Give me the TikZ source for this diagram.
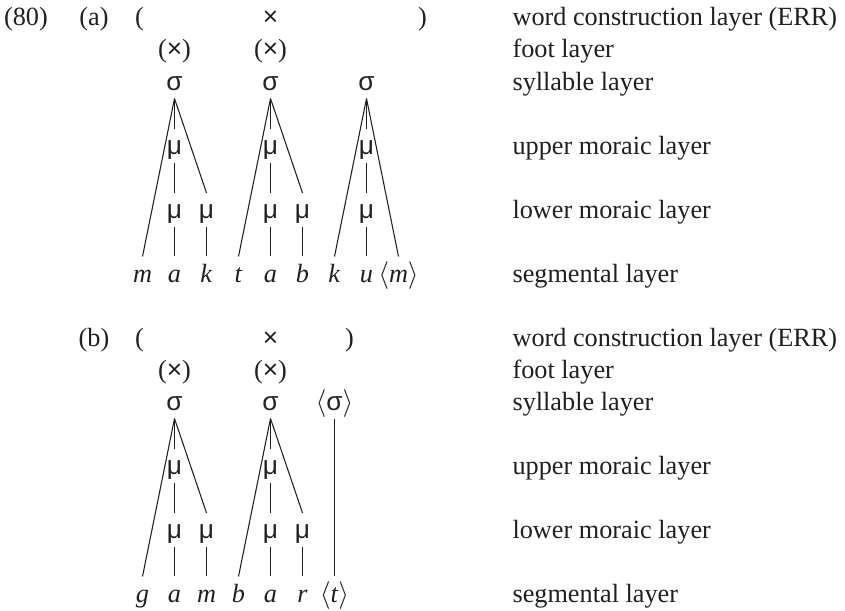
\documentclass[tikz,border=0pt]{standalone}
\usepackage{fontspec}
\setmainfont{Liberation Serif}
\newfontfamily\grf{Liberation Sans}
\newcommand\gsig{{\grf σ}}
\newcommand\gmu{{\grf μ}}
\newcommand\gx{{\grf ×}}
\newcommand\abr[1]{$\langle$#1$\rangle$}
\definecolor{ink}{HTML}{231F20}
\begin{document}
\begin{tikzpicture}[x=0.75pt,y=-0.75pt,
  font=\fontsize{19.7pt}{23pt}\selectfont, line width=0.8pt, draw=ink, text=ink,
  t/.style={anchor=base, inner sep=0pt},
  lab/.style={anchor=base west, inner sep=0pt},
  seg/.style={t, text height=18.75pt},
  mu/.style={t, text height=18.4pt, text depth=6pt},
  syl/.style={t, text depth=6pt}]
\useasboundingbox (0,0) rectangle (845,610);

% ---------- (a) ----------
\node[t] (n80) at (26,26) {(80)};
\node[t] (pa) at (94,26) {(a)};
\node[t] (lpa) at (139.5,26) {(};
\node[t] (xa) at (270.5,26) {\gx};
\node[t] (rpa) at (422.5,26) {)};
\node[t] (fa1) at (174.5,58) {(\gx)};
\node[t] (fa2) at (270.5,58) {(\gx)};
\node[syl] (sa1) at (174.5,90) {\gsig};
\node[syl] (sa2) at (270.5,90) {\gsig};
\node[syl] (sa3) at (366.5,90) {\gsig};
\node[mu] (ua1) at (174.5,154) {\gmu};
\node[mu] (ua2) at (270.5,154) {\gmu};
\node[mu] (ua3) at (366.5,154) {\gmu};
\node[mu] (la1) at (174.5,218) {\gmu};
\node[mu] (la2) at (206.5,218) {\gmu};
\node[mu] (la3) at (270.5,218) {\gmu};
\node[mu] (la4) at (302.5,218) {\gmu};
\node[mu] (la5) at (366.5,218) {\gmu};
\node[seg] (ga1) at (142.5,282) {\textit{m}};
\node[seg] (ga2) at (174.5,282) {\textit{a}};
\node[seg] (ga3) at (206.5,282) {\textit{k}};
\node[seg] (ga4) at (238.5,282) {\textit{t}};
\node[seg] (ga5) at (270.5,282) {\textit{a}};
\node[seg] (ga6) at (302.5,282) {\textit{b}};
\node[seg] (ga7) at (334.5,282) {\textit{k}};
\node[seg] (ga8) at (366.5,282) {\textit{u}};
\node[seg] (ga9) at (398.5,282) {\abr{\textit{m}}};

\draw (sa1.south) -- (ga1.north);
\draw (sa1.south) -- (ua1.north);
\draw (ua1.south) -- (la1.north);
\draw (la1.south) -- (ga2.north);
\draw (sa1.south) -- (la2.north);
\draw (la2.south) -- (ga3.north);
\draw (sa2.south) -- (ga4.north);
\draw (sa2.south) -- (ua2.north);
\draw (ua2.south) -- (la3.north);
\draw (la3.south) -- (ga5.north);
\draw (sa2.south) -- (la4.north);
\draw (la4.south) -- (ga6.north);
\draw (sa3.south) -- (ga7.north);
\draw (sa3.south) -- (ua3.north);
\draw (ua3.south) -- (la5.north);
\draw (la5.south) -- (ga8.north);
\draw (sa3.south) -- (ga9.north);

\node[lab] (la-w) at (512,26) {word construction layer (ERR)};
\node[lab] (la-f) at (512,58) {foot layer};
\node[lab] (la-s) at (512,90) {syllable layer};
\node[lab] (la-u) at (512,154) {upper moraic layer};
\node[lab] (la-l) at (512,218) {lower moraic layer};
\node[lab] (la-g) at (512,282) {segmental layer};

% ---------- (b) ----------
\node[t] (pb) at (94,346) {(b)};
\node[t] (lpb) at (139.5,346) {(};
\node[t] (xb) at (270.5,346) {\gx};
\node[t] (rpb) at (349.5,346) {)};
\node[t] (fb1) at (174.5,378) {(\gx)};
\node[t] (fb2) at (270.5,378) {(\gx)};
\node[syl] (sb1) at (174.5,410) {\gsig};
\node[syl] (sb2) at (270.5,410) {\gsig};
\node[syl] (sb3) at (334.5,410) {\abr{\gsig}};
\node[mu] (ub1) at (174.5,474) {\gmu};
\node[mu] (ub2) at (270.5,474) {\gmu};
\node[mu] (lb1) at (174.5,538) {\gmu};
\node[mu] (lb2) at (206.5,538) {\gmu};
\node[mu] (lb3) at (270.5,538) {\gmu};
\node[mu] (lb4) at (302.5,538) {\gmu};
\node[seg] (gb1) at (142.5,602) {\textit{g}};
\node[seg] (gb2) at (174.5,602) {\textit{a}};
\node[seg] (gb3) at (206.5,602) {\textit{m}};
\node[seg] (gb4) at (238.5,602) {\textit{b}};
\node[seg] (gb5) at (270.5,602) {\textit{a}};
\node[seg] (gb6) at (302.5,602) {\textit{r}};
\node[seg] (gb7) at (334.5,602) {\abr{\textit{t}}};

\draw (sb1.south) -- (gb1.north);
\draw (sb1.south) -- (ub1.north);
\draw (ub1.south) -- (lb1.north);
\draw (lb1.south) -- (gb2.north);
\draw (sb1.south) -- (lb2.north);
\draw (lb2.south) -- (gb3.north);
\draw (sb2.south) -- (gb4.north);
\draw (sb2.south) -- (ub2.north);
\draw (ub2.south) -- (lb3.north);
\draw (lb3.south) -- (gb5.north);
\draw (sb2.south) -- (lb4.north);
\draw (lb4.south) -- (gb6.north);
\draw (sb3.south) -- (gb7.north);

\node[lab] (lb-w) at (512,346) {word construction layer (ERR)};
\node[lab] (lb-f) at (512,378) {foot layer};
\node[lab] (lb-s) at (512,410) {syllable layer};
\node[lab] (lb-u) at (512,474) {upper moraic layer};
\node[lab] (lb-l) at (512,538) {lower moraic layer};
\node[lab] (lb-g) at (512,602) {segmental layer};
\end{tikzpicture}
\end{document}
